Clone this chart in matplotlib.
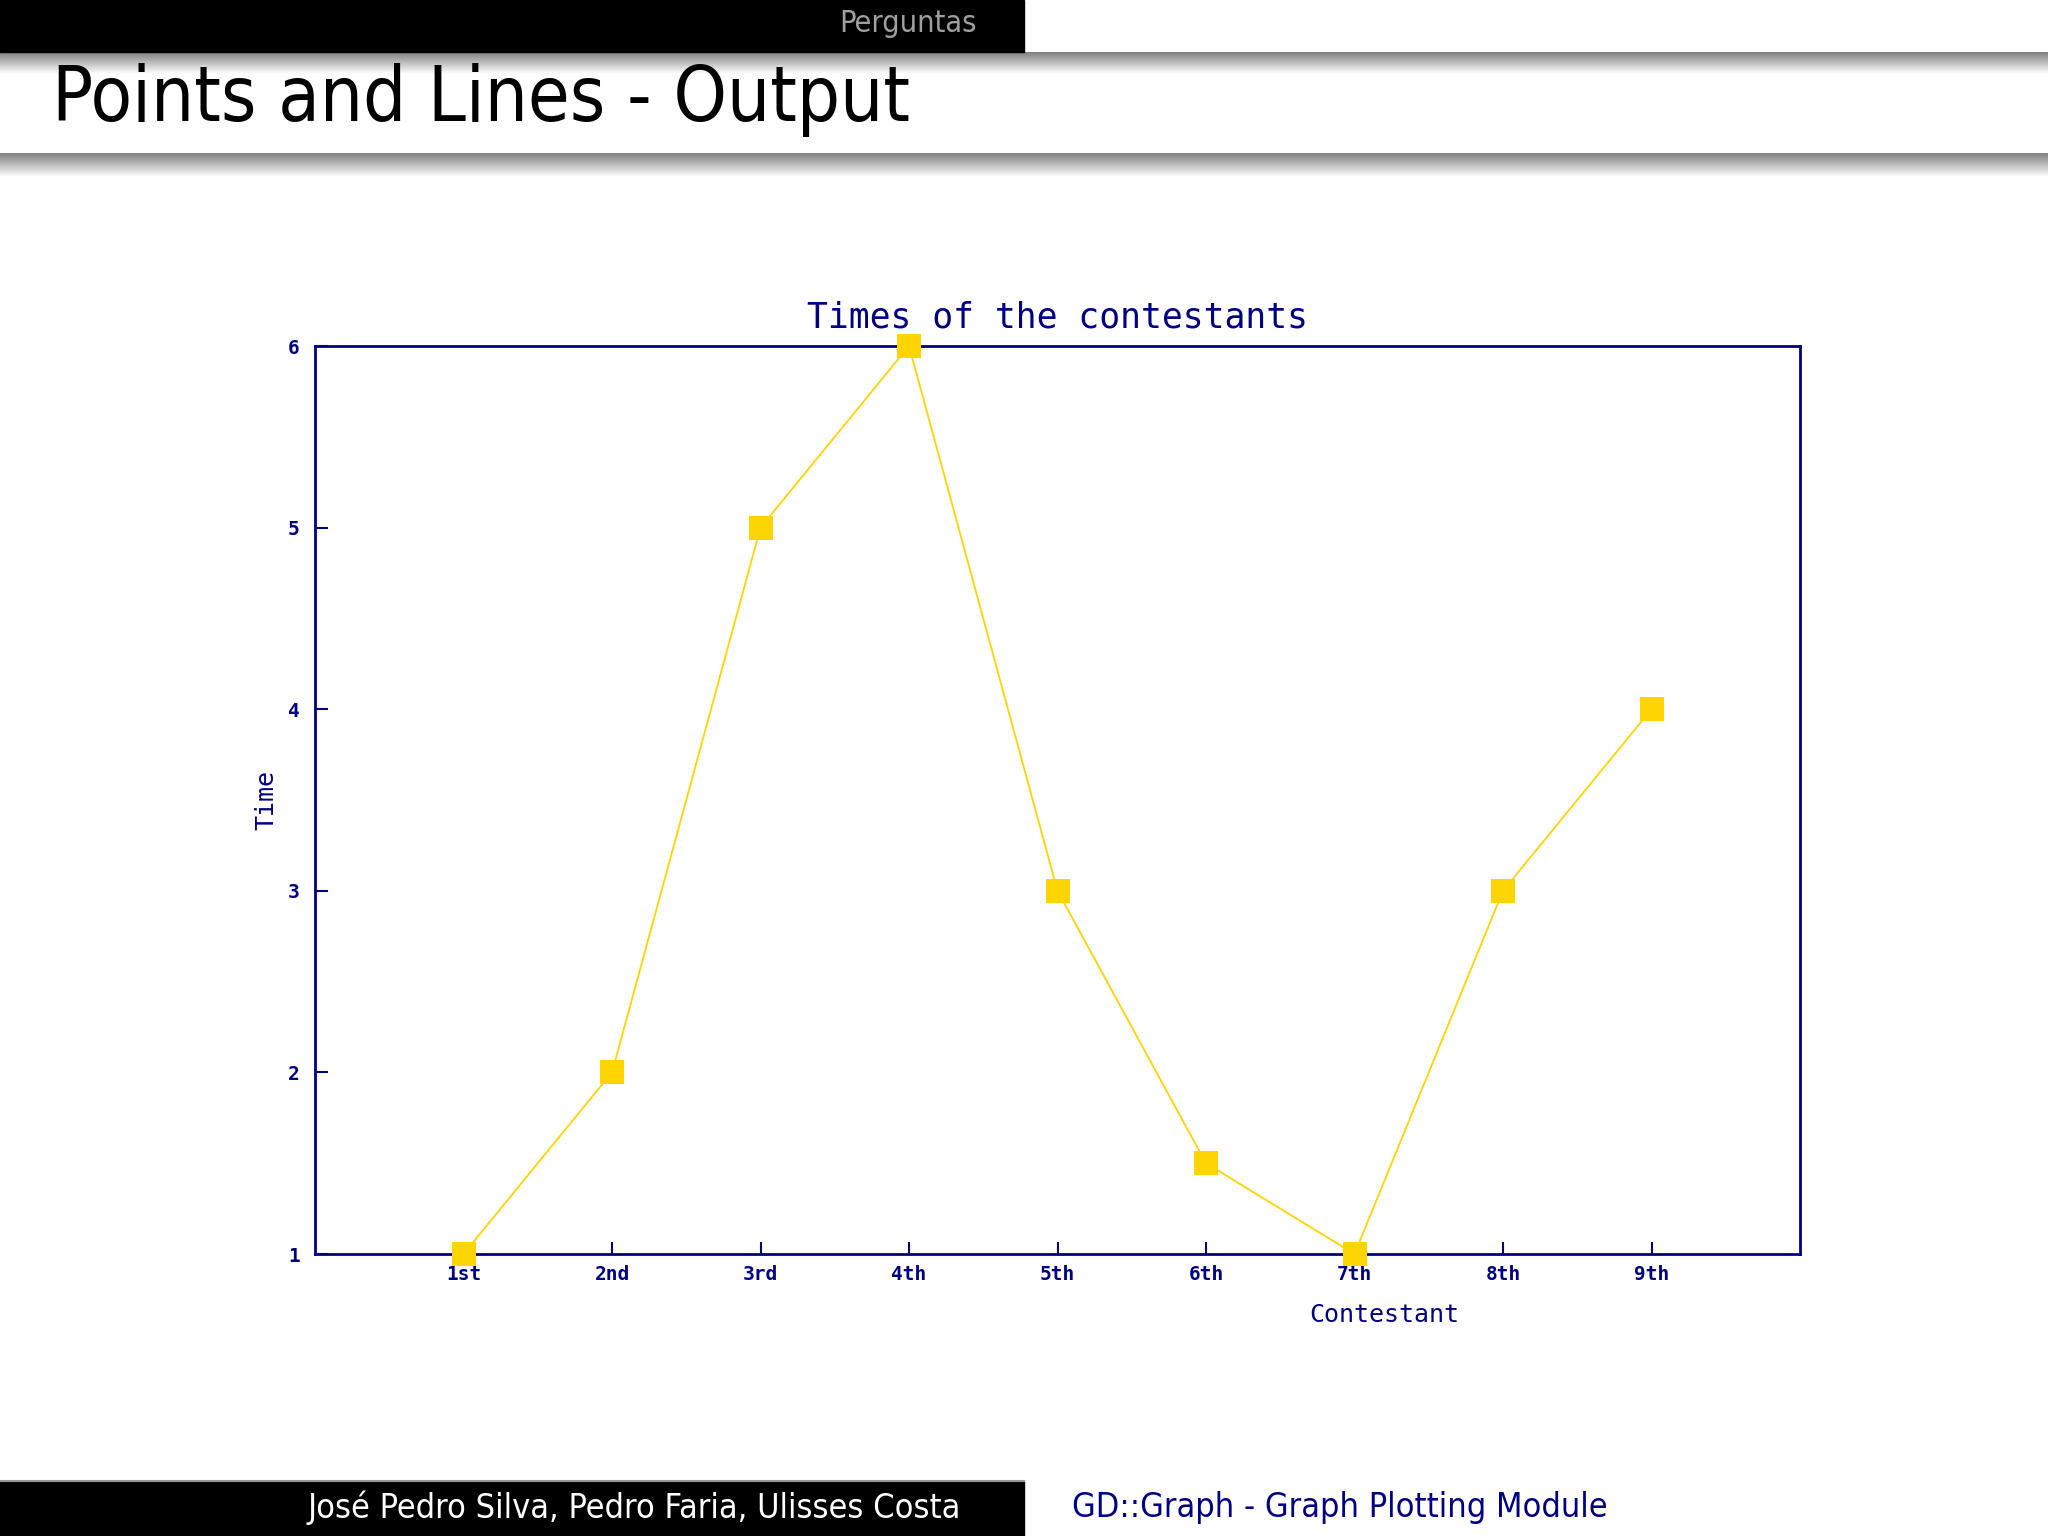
import numpy as np
import matplotlib
matplotlib.use("Agg")
import matplotlib.pyplot as plt
from matplotlib.patches import Rectangle

contestants = ["1st", "2nd", "3rd", "4th", "5th", "6th", "7th", "8th", "9th"]
times = [1, 2, 5, 6, 3, 1.5, 1, 3, 4]
y_ticks = [1, 2, 3, 4, 5, 6]

NAVY = "#000080"
GOLD = "#FFD400"
SLIDE_FONT = ["DejaVu Sans"]
GD_FONT = "DejaVu Sans Mono"

W, H = 2048, 1536
fig = plt.figure(figsize=(W / 100, H / 100), dpi=100)

# slide background in pixel coordinates
bg = fig.add_axes([0, 0, 1, 1])
bg.set_xlim(0, W)
bg.set_ylim(H, 0)
bg.axis("off")

# top bar
bg.add_patch(Rectangle((0, 0), 1024, 52, color="black"))
bg.text(977, 24, "Perguntas", color="#a0a0a0", fontsize=22, family=SLIDE_FONT,
        stretch="condensed", ha="right", va="center")

# shadow bands
grad = np.linspace(0.5, 1.0, 64).reshape(-1, 1)
bg.imshow(grad, cmap="gray", vmin=0, vmax=1, extent=[0, W, 74, 52], aspect="auto")
bg.imshow(grad, cmap="gray", vmin=0, vmax=1, extent=[0, W, 177, 153], aspect="auto")

bg.text(52, 100, "Points and Lines - Output", color="black", fontsize=54.5,
        family=SLIDE_FONT, stretch="condensed", ha="left", va="center")

# footer
bg.add_patch(Rectangle((0, 1481), 1024, 55, color="black"))
bg.plot([0, 1024], [1481, 1481], color="#999999", lw=1.5)
bg.text(961, 1508, "José Pedro Silva, Pedro Faria, Ulisses Costa", color="white",
        fontsize=24.6, family=SLIDE_FONT, stretch="condensed", ha="right", va="center")
bg.text(1072, 1508, "GD::Graph - Graph Plotting Module", color=NAVY,
        fontsize=24.6, family=SLIDE_FONT, stretch="condensed", ha="left", va="center")

# chart
ax = fig.add_axes([315 / W, 1 - 1254 / H, (1800 - 315) / W, (1254 - 346) / H])
x = np.arange(1, len(contestants) + 1)
ax.plot(x, times, color=GOLD, lw=1.3, marker="s", markersize=17,
        markeredgewidth=0, clip_on=False, zorder=3)

ax.set_xlim(0, len(contestants) + 1)
ax.set_ylim(1, 6)
ax.set_xticks(x)
ax.set_xticklabels(contestants)
ax.set_yticks(y_ticks)

for sp in ax.spines.values():
    sp.set_color(NAVY)
    sp.set_linewidth(2)

ax.tick_params(axis="both", direction="in", color=NAVY, labelcolor=NAVY,
               length=9, width=1.5, labelsize=14)
ax.tick_params(axis="x", pad=8)
ax.tick_params(axis="y", pad=11)
for lab in ax.get_xticklabels() + ax.get_yticklabels():
    lab.set_family(GD_FONT)
    lab.set_fontweight("bold")

ax.set_title("Times of the contestants", color=NAVY, fontsize=25,
             family=GD_FONT, pad=13)
ax.set_ylabel("Time", color=NAVY, fontsize=18, family=GD_FONT, labelpad=7)

bg.text(1384, 1315, "Contestant", color=NAVY, fontsize=18, family=GD_FONT,
        ha="center", va="center")

fig.savefig("out.png", dpi=100)
